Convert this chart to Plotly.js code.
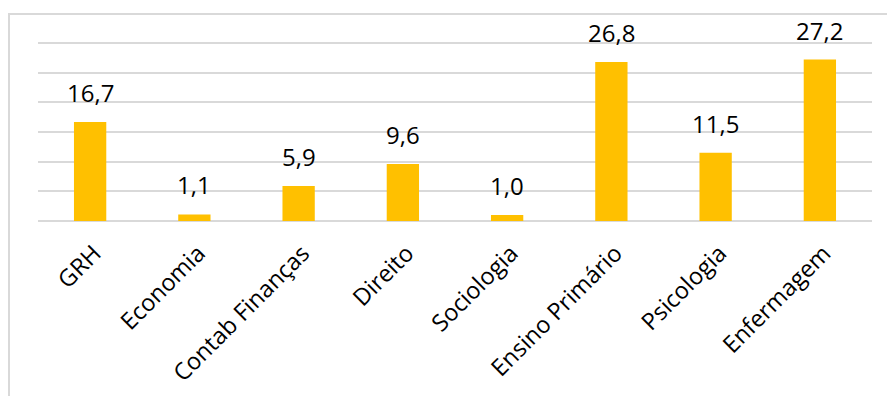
<!DOCTYPE html>
<html>
<head>
<meta charset="utf-8">
<script src="https://cdn.plot.ly/plotly-3.0.1.min.js"></script>
<style>
  html, body { margin: 0; padding: 0; background: #fff; }
  #wrap { position: relative; width: 887px; height: 396px; overflow: hidden; }
  #frame { position: absolute; left: 8px; top: 13px; right: -5px; bottom: -5px;
           border-left: 2px solid #d9d9d9; border-top: 2px solid #d9d9d9; pointer-events: none; }
  #chart { position: absolute; left: 0; top: 0; width: 887px; height: 396px; }
</style>
</head>
<body>
<div id="wrap">
  <div id="chart"></div>
  <div id="frame"></div>
</div>
<script>
const categories = ["GRH", "Economia", "Contab Finanças", "Direito", "Sociologia", "Ensino Primário", "Psicologia", "Enfermagem"];
const values = [16.7, 1.1, 5.9, 9.6, 1.0, 26.8, 11.5, 27.2];
const valueLabels = ["16,7", "1,1", "5,9", "9,6", "1,0", "26,8", "11,5", "27,2"];

const FONT = "'Open Sans', 'Liberation Sans', sans-serif";

const trace = {
  type: "bar",
  x: categories,
  y: values,
  marker: { color: "#FFC000" },
  hoverinfo: "skip"
};

const annotations = categories.map((c, i) => ({
  x: c, y: values[i], xref: "x", yref: "y",
  text: valueLabels[i], showarrow: false,
  yanchor: "bottom", yshift: 11,
  font: { family: FONT, size: 24, color: "#000" }
}));

const layout = {
  width: 887, height: 396,
  margin: { l: 38, r: 15, t: 37, b: 175, pad: 0 },
  paper_bgcolor: "rgba(0,0,0,0)",
  plot_bgcolor: "rgba(0,0,0,0)",
  bargap: 0.69,
  showlegend: false,
  xaxis: {
    type: "category",
    tickangle: -45,
    tickfont: { family: FONT, size: 23.5, color: "#000" },
    ticklabelstandoff: 13,
    ticklabelshift: 4,
    showgrid: false, showline: false, zeroline: false,
    ticks: "", ticklen: 0
  },
  yaxis: {
    range: [0, 31], dtick: 5, tick0: 0,
    showticklabels: false,
    showgrid: true, gridcolor: "#d9d9d9", gridwidth: 2,
    zeroline: true, zerolinecolor: "#d9d9d9", zerolinewidth: 2,
    showline: false, ticks: ""
  },
  annotations: annotations
};

Plotly.newPlot("chart", [trace], layout, { displayModeBar: false, staticPlot: true });
</script>
</body>
</html>
